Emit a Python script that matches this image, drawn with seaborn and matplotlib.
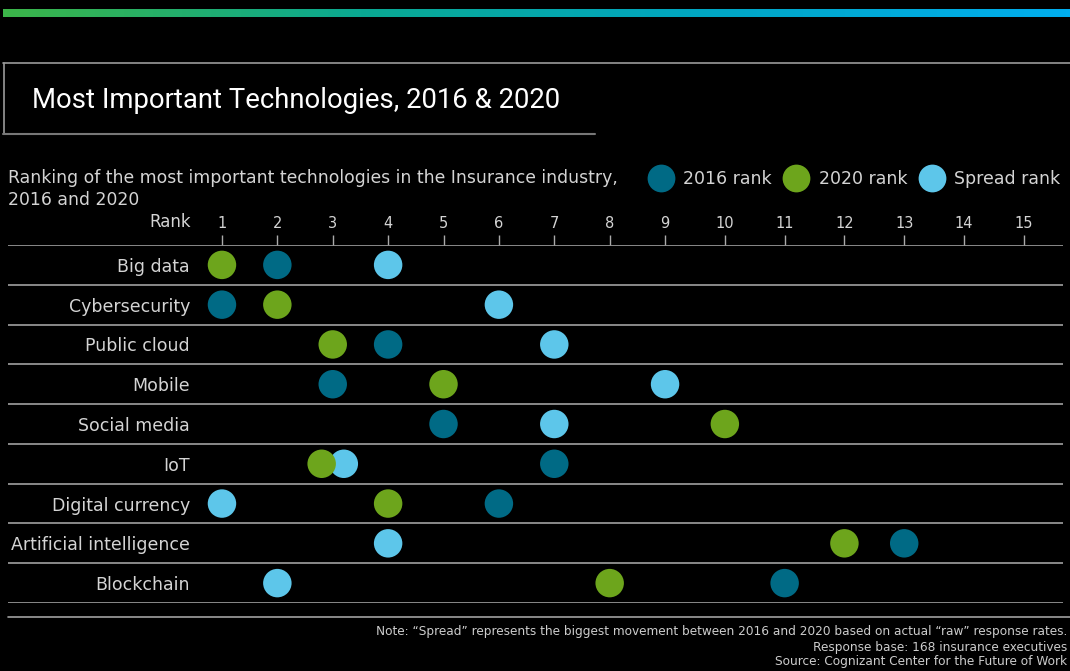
import numpy as np
import pandas as pd
import matplotlib
matplotlib.use("Agg")
import matplotlib.pyplot as plt
from matplotlib.lines import Line2D
from matplotlib.colors import LinearSegmentedColormap
import seaborn as sns

# ---------------- data ----------------
technologies = ["Big data", "Cybersecurity", "Public cloud", "Mobile", "Social media",
                "IoT", "Digital currency", "Artificial intelligence", "Blockchain"]
rank_2016 = [2, 1, 4, 3, 5, 7, 6, 13, 11]
rank_2020 = [1, 2, 3, 5, 10, 2.8, 4, 12, 8]
rank_spread = [4, 6, 7, 9, 7, 3.2, 1, 4, 2]
series_names = ["2016 rank", "2020 rank", "Spread rank"]
tick_ranks = list(range(1, 16))

title = "Most Important Technologies, 2016 & 2020"
subtitle = "Ranking of the most important technologies in the Insurance industry,\n2016 and 2020"
footnotes = ["Note: \u201cSpread\u201d represents the biggest movement between 2016 and 2020 based on actual \u201craw\u201d response rates.",
             "Response base: 168 insurance executives",
             "Source: Cognizant Center for the Future of Work"]

colors = {"2016 rank": "#006a85", "2020 rank": "#6da51c", "Spread rank": "#5dc6ea"}

# long-form table (spread first so 2020 sits on top where they touch)
rows = []
for name, vals in [("Spread rank", rank_spread), ("2016 rank", rank_2016), ("2020 rank", rank_2020)]:
    for i, v in enumerate(vals):
        rows.append({"series": name, "rank": v, "row": i})
df = pd.DataFrame(rows)

# ---------------- figure ----------------
sns.set_theme(style="dark")
FONT = "DejaVu Sans"
plt.rcParams["font.family"] = [FONT]
TXT = "#d4d4d4"
W, H = 1070, 671
fig = plt.figure(figsize=(W / 100, H / 100), dpi=100, facecolor="black")

def fx(px):
    return px / W

def fy(py):
    return 1 - py / H

# gradient top bar
gax = fig.add_axes([fx(3), fy(17), fx(1067), 8 / H])
cmap = LinearSegmentedColormap.from_list("g", ["#3cb549", "#0aa992", "#00a6c4", "#00aeef"])
gax.imshow(np.linspace(0, 1, 256)[None, :], aspect="auto", cmap=cmap)
gax.axis("off")

# title box lines
fig.add_artist(Line2D([fx(3), 1], [fy(63), fy(63)], color="#9a9a9a", lw=1.2))
fig.add_artist(Line2D([fx(4), fx(4)], [fy(63), fy(134)], color="#9a9a9a", lw=1.2))
fig.add_artist(Line2D([fx(3), fx(595)], [fy(134), fy(134)], color="#777777", lw=1.5))
fig.text(fx(32), fy(101), title, color="white", fontsize=19.8, va="center", ha="left",
         family=["Roboto"])

fig.text(fx(8), fy(189), subtitle, color=TXT, fontsize=12.4, va="center", ha="left",
         linespacing=1.3)

# main axes
ax = fig.add_axes([fx(8), fy(603), fx(1063) - fx(8), (603 - 245) / H])
ax.set_facecolor("black")

def fwd(x):
    x = np.asarray(x, dtype=float)
    return np.where(x <= 9, 55.4 * (x - 1), 443.2 + 59.8 * (x - 9))

def inv(u):
    u = np.asarray(u, dtype=float)
    return np.where(u <= 443.2, u / 55.4 + 1, 9 + (u - 443.2) / 59.8)

ax.set_xscale("function", functions=(fwd, inv))

sns.scatterplot(data=df, x="rank", y="row", hue="series", palette=colors, s=420,
                edgecolor="none", linewidth=0, legend=False, ax=ax, zorder=3, clip_on=False)

ax.set_xlim(-2.863, 15.656)
ax.set_ylim(len(technologies) - 0.5, -0.5)
for k in range(len(technologies) + 1):
    ax.axhline(k - 0.5, color="#a0a0a0", lw=1.2, zorder=1)

ax.xaxis.set_ticks_position("top")
ax.set_xticks(tick_ranks)
ax.set_xticklabels([str(t) for t in tick_ranks])
ax.tick_params(axis="x", which="both", length=7, width=1, color="#aaaaaa", pad=3,
               labelsize=10.5, labelcolor=TXT, direction="out", top=True, bottom=False)
ax.xaxis.set_minor_locator(matplotlib.ticker.NullLocator())
ax.set_yticks(range(len(technologies)))
ax.set_yticklabels(technologies)
ax.tick_params(axis="y", length=0, pad=-131, labelsize=12.5, labelcolor=TXT)
for lbl in ax.get_yticklabels():
    lbl.set_horizontalalignment("right")
ax.set_xlabel("")
ax.set_ylabel("")
ax.grid(False)
for sp in ax.spines.values():
    sp.set_visible(False)

fig.text(fx(191), fy(222), "Rank", color=TXT, fontsize=12, ha="right", va="center")

# bottom rule
fig.add_artist(Line2D([fx(8), 1], [fy(617), fy(617)], color="#a0a0a0", lw=1.2))

# legend
handles = [Line2D([], [], marker="o", linestyle="none", markersize=20,
                  markerfacecolor=colors[n], markeredgewidth=0) for n in series_names]
leg = fig.legend(handles, series_names, loc="center right", bbox_to_anchor=(fx(1069), fy(179)),
                 ncol=3, frameon=False, fontsize=12.5, labelcolor=TXT,
                 handletextpad=0.6, columnspacing=0.7, handlelength=1.4, borderpad=0)

# footnotes
for i, t in enumerate(footnotes):
    fig.text(fx(1067), fy(632 + 15 * i), t, color="#cccccc", fontsize=8.75, ha="right", va="center")

fig.savefig("out.png", dpi=100, facecolor="black")
